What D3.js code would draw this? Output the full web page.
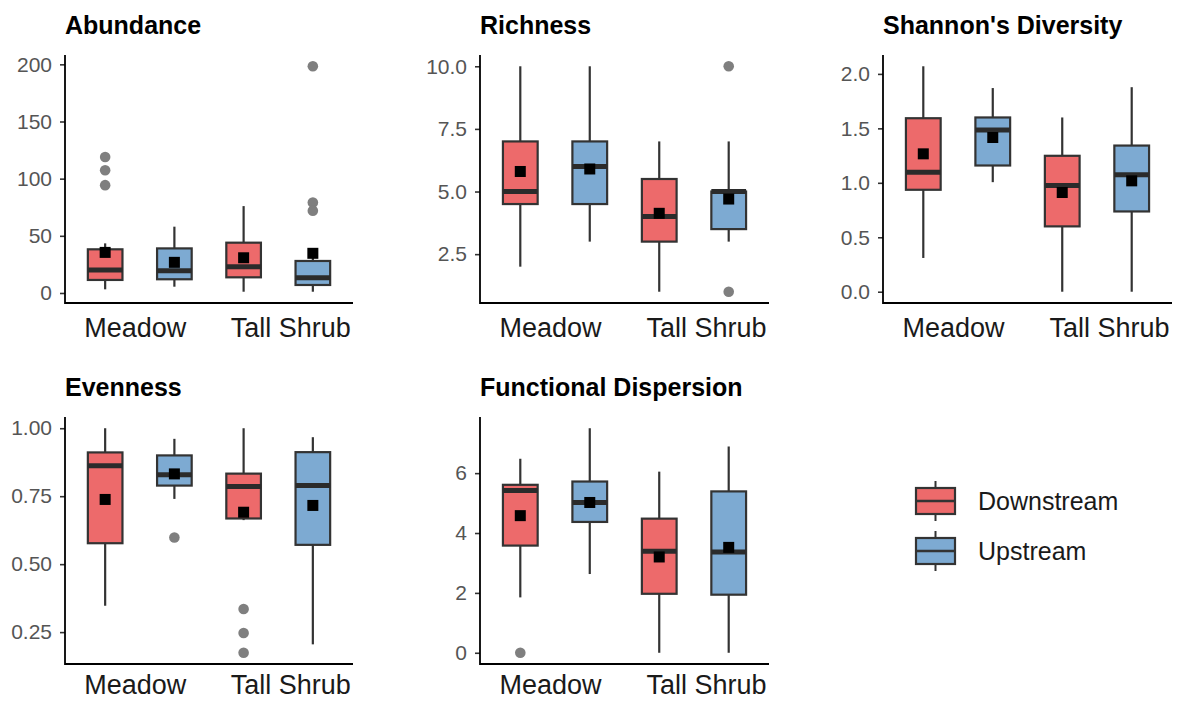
<!DOCTYPE html>
<html>
<head>
<meta charset="utf-8">
<script src="https://cdn.jsdelivr.net/npm/d3@7/dist/d3.min.js"></script>
<style>
  html, body { margin: 0; padding: 0; background: #ffffff; }
  svg { display: block; font-family: "Liberation Sans", Arial, Helvetica, sans-serif; }
</style>
</head>
<body>
<svg id="chart" width="1178" height="701"></svg>
<script>
// ---- data ----------------------------------------------------------------
const categories = ["Meadow", "Tall Shrub"];
const groups = ["Downstream", "Upstream"];
const groupColors = ["#ED6A6B", "#7DAAD2"];

// Box summaries: [lower whisker, Q1, median, Q3, upper whisker]
// order: Meadow/Downstream, Meadow/Upstream, Tall Shrub/Downstream, Tall Shrub/Upstream
const abundanceBoxes = [[3.2, 11.4, 20, 38.2, 43.4], [5.5, 12, 19.5, 39, 58], [1.1, 13.7, 23, 44, 76], [1.1, 7, 13.4, 28, 34]];
const abundanceMeans = [35.5, 26.8, 30.8, 34.7];
const abundanceOutliers = [[119, 107.4, 94.3], [], [], [198.3, 79.2, 71.9]];
const abundanceTicks = [0, 50, 100, 150, 200];

const richnessBoxes = [[2, 4.5, 5, 7, 10], [3, 4.5, 6, 7, 10], [1, 3, 4, 5.5, 7], [3, 3.5, 5, 5, 7]];
const richnessMeans = [5.8, 5.9, 4.13, 4.7];
const richnessOutliers = [[], [], [], [10, 1]];
const richnessTicks = [2.5, 5, 7.5, 10];

const shannonBoxes = [[0.31, 0.936, 1.098, 1.593, 2.07], [1.006, 1.159, 1.486, 1.6, 1.87], [0, 0.6, 0.975, 1.248, 1.6], [0, 0.737, 1.073, 1.342, 1.878]];
const shannonMeans = [1.266, 1.416, 0.911, 1.018];
const shannonOutliers = [[], [], [], []];
const shannonTicks = [0, 0.5, 1, 1.5, 2];

const evennessBoxes = [[0.347, 0.577, 0.862, 0.911, 1.0], [0.74, 0.789, 0.829, 0.9, 0.961], [0.662, 0.668, 0.786, 0.833, 1.0], [0.205, 0.571, 0.789, 0.912, 0.967]];
const evennessMeans = [0.738, 0.832, 0.691, 0.716];
const evennessOutliers = [[], [0.598], [0.335, 0.247, 0.174], []];
const evennessTicks = [0.25, 0.5, 0.75, 1.0];

const fdisBoxes = [[1.85, 3.58, 5.42, 5.61, 6.48], [2.63, 4.37, 5.02, 5.72, 7.5], [0, 1.97, 3.39, 4.48, 6.05], [0, 1.94, 3.37, 5.39, 6.89]];
const fdisMeans = [4.58, 5.02, 3.2, 3.52];
const fdisOutliers = [[0], [], [], []];
const fdisTicks = [0, 2, 4, 6];

// ---- panel definitions ---------------------------------------------------
const panels = [
  { title: "Abundance", boxes: abundanceBoxes, means: abundanceMeans, outliers: abundanceOutliers, ticks: abundanceTicks, fmt: d3.format("d"), col: 0, row: 0 },
  { title: "Richness", boxes: richnessBoxes, means: richnessMeans, outliers: richnessOutliers, ticks: richnessTicks, fmt: d3.format(".1f"), col: 1, row: 0 },
  { title: "Shannon's Diversity", boxes: shannonBoxes, means: shannonMeans, outliers: shannonOutliers, ticks: shannonTicks, fmt: d3.format(".1f"), col: 2, row: 0 },
  { title: "Evenness", boxes: evennessBoxes, means: evennessMeans, outliers: evennessOutliers, ticks: evennessTicks, fmt: d3.format(".2f"), col: 0, row: 1 },
  { title: "Functional Dispersion", boxes: fdisBoxes, means: fdisMeans, outliers: fdisOutliers, ticks: fdisTicks, fmt: d3.format("d"), col: 1, row: 1 }
];

// ---- layout --------------------------------------------------------------
const colLeft = [65, 480, 883];
const colRight = [353, 769, 1172];
const rowTop = [55, 417];
const rowBottom = [303, 664];
const rowLabelGap = [34, 30];
const labelNudge = [-5, 12];

const svg = d3.select("#chart");

panels.forEach(p => {
  const x0 = colLeft[p.col], x1 = colRight[p.col];
  const y0 = rowTop[p.row], y1 = rowBottom[p.row];
  const g = svg.append("g");

  // y scale with 5% padding around the full data range
  const allVals = p.boxes.flat().concat(p.means, p.outliers.flat());
  const lo = d3.min(allVals), hi = d3.max(allVals);
  const pad = (hi - lo) * 0.05;
  const y = d3.scaleLinear().domain([lo - pad, hi + pad]).range([y1, y0]);

  // x scales: category position, then dodge within category
  const x = d3.scalePoint().domain(categories).range([x0, x1]).padding(0.54);
  const step = x.step();
  const dodge = d3.scaleBand().domain(groups).range([-step / 2, step / 2]);
  const boxW = dodge.bandwidth() * 0.5;

  // title
  g.append("text")
    .attr("x", x0).attr("y", y0 - 21)
    .attr("font-size", 25).attr("font-weight", "bold").attr("fill", "#000")
    .text(p.title);

  // y axis
  const yAxis = d3.axisLeft(y).tickValues(p.ticks).tickFormat(p.fmt).tickSize(5).tickPadding(8);
  const ya = g.append("g").attr("transform", `translate(${x0},0)`).call(yAxis);
  ya.select(".domain").remove();
  ya.selectAll(".tick line").attr("stroke", "#333").attr("stroke-width", 1.6);
  ya.selectAll(".tick text").attr("font-size", 21).attr("fill", "#555")
    .attr("font-family", "'Liberation Sans', Arial, sans-serif");

  // x axis labels
  const xAxis = d3.axisBottom(x).tickSize(0).tickPadding(0);
  const xa = g.append("g").attr("transform", `translate(0,${y1})`).call(xAxis);
  xa.select(".domain").remove();
  xa.selectAll(".tick text")
    .attr("font-size", 27).attr("fill", "#1a1a1a")
    .attr("font-family", "'Liberation Sans', Arial, sans-serif")
    .attr("dy", null).attr("y", rowLabelGap[p.row])
    .attr("dx", (d, i) => labelNudge[i]);

  // boxes
  const items = [];
  categories.forEach((c, ci) => groups.forEach((gr, gi) => {
    const k = ci * 2 + gi;
    items.push({ cx: x(c) + dodge(gr) + dodge.bandwidth() / 2, s: p.boxes[k], mean: p.means[k], out: p.outliers[k], color: groupColors[gi] });
  }));

  items.forEach(it => {
    const [wl, q1, md, q3, wh] = it.s;
    const bg = g.append("g");
    bg.append("line").attr("x1", it.cx).attr("x2", it.cx).attr("y1", y(q3)).attr("y2", y(wh))
      .attr("stroke", "#333").attr("stroke-width", 2.2);
    bg.append("line").attr("x1", it.cx).attr("x2", it.cx).attr("y1", y(q1)).attr("y2", y(wl))
      .attr("stroke", "#333").attr("stroke-width", 2.2);
    bg.append("rect").attr("x", it.cx - boxW / 2).attr("width", boxW)
      .attr("y", y(q3)).attr("height", y(q1) - y(q3))
      .attr("fill", it.color).attr("stroke", "#333").attr("stroke-width", 2.2);
    bg.append("line").attr("x1", it.cx - boxW / 2).attr("x2", it.cx + boxW / 2)
      .attr("y1", y(md)).attr("y2", y(md))
      .attr("stroke", "#2b2b2b").attr("stroke-width", 5);
    it.out.forEach(v => {
      bg.append("circle").attr("cx", it.cx).attr("cy", y(v)).attr("r", 5.3).attr("fill", "#7f7f7f");
    });
    const ms = 11;
    bg.append("rect").attr("x", it.cx - ms / 2).attr("y", y(it.mean) - ms / 2)
      .attr("width", ms).attr("height", ms).attr("fill", "#000");
  });

  // axis lines (classic theme: left and bottom only)
  g.append("path")
    .attr("d", `M${x0},${y0}V${y1}H${x1}`)
    .attr("fill", "none").attr("stroke", "#000").attr("stroke-width", 1.8);
});

// ---- legend --------------------------------------------------------------
const legend = svg.append("g");
const legendRowY = d3.scalePoint().domain(groups).range([501, 551]);
groups.forEach((gr, i) => {
  const cy = legendRowY(gr);
  const kx = 916, kw = 39, kh = 26;
  legend.append("line").attr("x1", kx + kw / 2).attr("x2", kx + kw / 2)
    .attr("y1", cy - kh / 2 - 7).attr("y2", cy + kh / 2 + 7)
    .attr("stroke", "#333").attr("stroke-width", 2);
  legend.append("rect").attr("x", kx).attr("y", cy - kh / 2).attr("width", kw).attr("height", kh)
    .attr("fill", groupColors[i]).attr("stroke", "#333").attr("stroke-width", 2.2);
  legend.append("line").attr("x1", kx).attr("x2", kx + kw).attr("y1", cy).attr("y2", cy)
    .attr("stroke", "#333").attr("stroke-width", 2.5);
  legend.append("text").attr("x", 978).attr("y", cy).attr("dy", "0.35em")
    .attr("font-size", 25).attr("fill", "#1a1a1a").text(gr);
});
</script>
</body>
</html>
